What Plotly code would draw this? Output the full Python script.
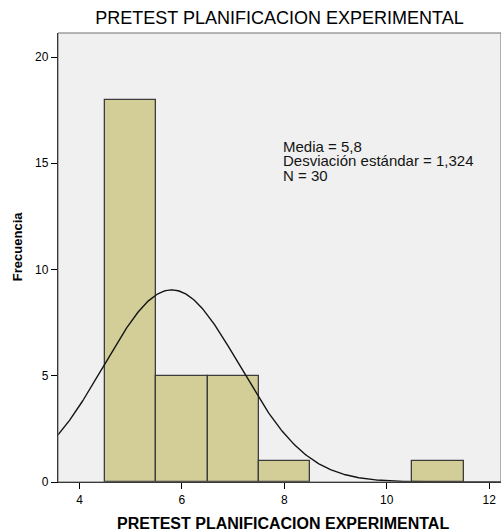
import numpy as np
import plotly.graph_objects as go

# Data
bin_centers = [5, 6, 7, 8, 11]
counts = [18, 5, 5, 1, 1]
bin_width = 1.0
mean_val = 5.8
sd_val = 1.324
n_val = 30
x_ticks = [4, 6, 8, 10, 12]
y_ticks = [0, 5, 10, 15, 20]
stats_lines = ["Media = 5,8", "Desviación estándar = 1,324", "N = 30"]
title_text = "PRETEST PLANIFICACION EXPERIMENTAL"
x_title = "PRETEST PLANIFICACION EXPERIMENTAL"
y_title = "Frecuencia"

x_range = [3.58, 12.23]
y_range = [0, 21.13]

# Normal curve from the reported statistics
xc = np.linspace(x_range[0], x_range[1], 400)
yc = n_val * bin_width / (sd_val * np.sqrt(2 * np.pi)) * np.exp(-0.5 * ((xc - mean_val) / sd_val) ** 2)

FONT = "Liberation Sans, Arial, sans-serif"

fig = go.Figure()
fig.add_trace(go.Bar(
    x=bin_centers, y=counts, width=bin_width,
    marker=dict(color="rgb(211,206,152)", line=dict(color="rgb(60,60,60)", width=1.3)),
    hoverinfo="x+y", showlegend=False,
))
fig.add_trace(go.Scatter(
    x=xc, y=yc, mode="lines", line=dict(color="rgb(20,20,20)", width=1.4),
    showlegend=False, hoverinfo="skip",
))

annotations = [
    dict(text="<b>" + y_title + "</b>", xref="paper", yref="paper", x=0, y=0.523, xshift=-41,
         textangle=-90, showarrow=False, font=dict(family=FONT, size=13, color="black"),
         xanchor="center", yanchor="middle"),
    dict(text="<b>" + x_title + "</b>", xref="paper", yref="paper", x=0.508, y=0, yshift=-41,
         showarrow=False, font=dict(family=FONT, size=16, color="black"),
         xanchor="center", yanchor="middle"),
]
stat_y = [146, 160.5, 175]
for line, py in zip(stats_lines, stat_y):
    annotations.append(dict(
        text=line, xref="paper", yref="paper", x=(281 - 58) / 443, y=(482 - py) / 449,
        xanchor="left", yanchor="middle", showarrow=False,
        font=dict(family=FONT, size=15, color="rgb(20,20,20)"),
    ))

W, H = 501, 532
fig.update_layout(
    width=W, height=H,
    margin=dict(l=58, r=0, t=33, b=50),
    paper_bgcolor="white", plot_bgcolor="rgb(240,240,240)",
    title=dict(text=title_text, x=0.5, xref="paper", xanchor="center",
               y=1 - 18 / H, yref="container", yanchor="middle",
               font=dict(family=FONT, size=18, color="black")),
    bargap=0,
    annotations=annotations,
    shapes=[dict(type="rect", xref="paper", yref="paper", x0=0, x1=1, y0=0, y1=1,
                 line=dict(color="rgb(110,110,110)", width=1), layer="above")],
    xaxis=dict(range=x_range, tickvals=x_ticks, ticks="outside", ticklen=6,
               tickcolor="black", showgrid=False, zeroline=False,
               showline=True, linecolor="black", linewidth=1.3,
               tickfont=dict(family=FONT, size=12, color="black")),
    yaxis=dict(range=y_range, tickvals=y_ticks, ticks="outside", ticklen=6,
               tickcolor="black", showgrid=False, zeroline=False,
               showline=True, linecolor="black", linewidth=1.3,
               tickfont=dict(family=FONT, size=12, color="black")),
)

fig.write_html(
    "out.html",
    config={"displayModeBar": False},
    post_script="document.body.style.margin='0';document.body.style.overflow='hidden';",
)
